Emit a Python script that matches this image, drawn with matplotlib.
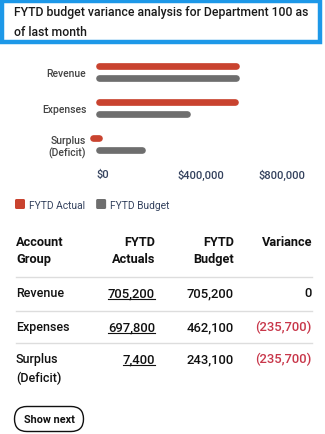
import matplotlib
matplotlib.use('Agg')
import matplotlib.pyplot as plt
from matplotlib.patches import Rectangle, FancyBboxPatch

# chart data
categories = ['Revenue', 'Expenses', 'Surplus\n(Deficit)']
table_names = ['Revenue', 'Expenses', 'Surplus\n(Deficit)']
fytd_actual = [705200, 697800, 7400]
fytd_budget = [705200, 462100, 243100]
variance = [0, -235700, -235700]
series_names = ['FYTD Actual', 'FYTD Budget']
x_ticks = [0, 400000, 800000]
x_tick_labels = ['$0', '$400,000', '$800,000']
headers = ['Account\nGroup', 'FYTD\nActuals', 'FYTD\nBudget', 'Variance']

W, H = 325, 435
RED = '#c9432f'
GRAY = '#6e6e6e'
NEG = '#c8374a'
FONT = ['Roboto', 'DejaVu Sans']

fig = plt.figure(figsize=(W / 100, H / 100), dpi=100)
fig.patch.set_facecolor('white')

# overlay axes in pixel units (y down)
bg = fig.add_axes([0, 0, 1, 1])
bg.set_xlim(0, W)
bg.set_ylim(H, 0)
bg.axis('off')

# title box
bg.add_patch(Rectangle((2.2, 2.2), 317.3, 40.3, fill=False, edgecolor='#1d98e8', linewidth=3.2))
bg.text(14, 22.5, 'FYTD budget variance analysis for Department 100 as\nof last month',
        fontsize=8.8, family=FONT, weight=500, color='#1a1a1a', va='center', ha='left',
        linespacing=1.75)

# bar chart
def fig_rect(x0, y0, x1, y1):
    return [x0 / W, 1 - y1 / H, (x1 - x0) / W, (y1 - y0) / H]

ax_x0, ax_x1 = 96, 316
ax = fig.add_axes(fig_rect(ax_x0, 55, ax_x1, 163))
ax.patch.set_alpha(0)
px_per_unit = 143.6 / 705200
xmax = (ax_x1 - ax_x0) / px_per_unit
ax.set_xlim(0, xmax)
ax.set_ylim(len(categories) - 0.5, -0.5)
bar_px = 6.7
r = (bar_px / 2) / px_per_unit
off = 0.153
for i in range(len(categories)):
    for vals, col, dy in [(fytd_actual, RED, -off), (fytd_budget, GRAY, off)]:
        v = vals[i]
        x1 = max(v - r, r)
        x0 = min(r, x1 - 2 * r)
        ax.plot([x0, x1], [i + dy, i + dy], color=col, linewidth=bar_px * 0.72,
                solid_capstyle='round', clip_on=False)
for s in ax.spines.values():
    s.set_visible(False)
ax.set_yticks(range(len(categories)))
ax.set_yticklabels(categories, family=FONT, fontsize=7.5, weight=500, color='#444444')
for lab in ax.get_yticklabels():
    lab.set_multialignment('right')
ax.tick_params(axis='y', length=0, pad=7)
ax.set_xticks(x_ticks)
ax.set_xticklabels(x_tick_labels, family=FONT, fontsize=8, weight=500, color='#34425e', ha='left')
ax.tick_params(axis='x', length=0, pad=5)

# legend
leg_x = 15
for name, col in zip(series_names, [RED, GRAY]):
    bg.add_patch(FancyBboxPatch((leg_x + 1.5, 201.5), 7, 7, boxstyle='round,pad=1.5',
                                facecolor=col, edgecolor='none'))
    t = bg.text(leg_x + 14, 206.5, name, fontsize=7.4, family=FONT, color='#34425e',
                va='center', ha='left')
    fig.canvas.draw()
    bb = t.get_window_extent()
    leg_x = bb.x1 + 11

# table
col_x = [16, 155, 234, 312]
col_ha = ['left', 'right', 'right', 'right']
for x, ha, h in zip(col_x, col_ha, headers):
    bg.text(x, 251 if '\n' in h else 242.5, h, fontsize=9.2, family=FONT, weight='bold',
            color='#111111', ha=ha, va='center', multialignment=ha, linespacing=1.45)

row_top = [278, 311.5, 343.5]
for y in row_top:
    bg.plot([16, 312], [y, y], color='#dddddd', linewidth=1)

under = []
for i, name in enumerate(table_names):
    y = row_top[i] + 16
    nm_y = y + 9.8 if '\n' in name else y
    bg.text(col_x[0], nm_y, name, fontsize=9, family=FONT, weight=500, color='#111111',
            ha='left', va='center', linespacing=1.55)
    t = bg.text(col_x[1], y, f'{fytd_actual[i]:,}', fontsize=9.4, family=FONT, weight=500,
                color='#111111', ha='right', va='center')
    under.append(t)
    bg.text(col_x[2], y, f'{fytd_budget[i]:,}', fontsize=9.4, family=FONT, weight=500,
            color='#111111', ha='right', va='center')
    v = variance[i]
    vs = f'({abs(v):,})' if v < 0 else f'{v:,}'
    bg.text(col_x[3], y, vs, fontsize=9.4, family=FONT, weight=500,
            color=NEG if v < 0 else '#111111', ha='right', va='center')

fig.canvas.draw()
for t in under:
    bb = t.get_window_extent()
    yy = H - bb.y0 - 0.5
    bg.plot([bb.x0, bb.x1], [yy, yy], color='#111111', linewidth=0.8)

# button
bg.add_patch(FancyBboxPatch((14.5, 407.5), 69, 25, boxstyle='round,pad=0,rounding_size=12.5',
                            facecolor='white', edgecolor='#111111', linewidth=1))
bg.text(49, 420, 'Show next', fontsize=7.8, family=FONT, weight='bold', color='#111111',
        ha='center', va='center')

fig.savefig('out.png', dpi=100)
